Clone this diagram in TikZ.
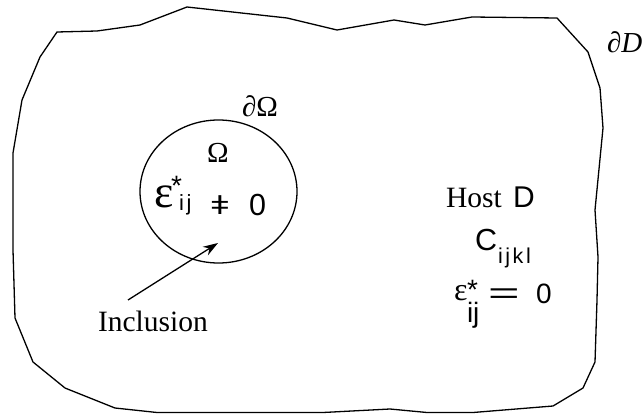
\documentclass[tikz,border=0pt]{standalone}
\usepackage{fontspec}
\usepackage{graphicx}
\setmainfont{Liberation Serif}
\newfontfamily\hlv{Liberation Sans}
\newfontfamily\hlvsp[LetterSpace=12]{Liberation Sans}
\usetikzlibrary{arrows.meta,shapes.geometric}
\newcommand\fsz[1]{\fontsize{#1}{#1}\selectfont}
\begin{document}
\begin{tikzpicture}[x=1pt,y=-1pt,
  lbl/.style={inner sep=0pt, outer sep=0pt, anchor=base west},
  outline/.style={line width=1.3pt, line join=round},
  region/.style={draw, ellipse, line width=1.3pt, inner sep=0pt},
  pointer/.style={-{Stealth[length=15pt,width=10pt]}, line width=1.3pt}]
\useasboundingbox (0,0) rectangle (644,414);
% outer host boundary
\draw[outline] (57,32) -- (97,31) -- (140,25) -- (187,7) -- (287,18) -- (337,30)
  -- (394,20) -- (425,25) -- (472,17) -- (557,18) -- (588,52) -- (600,88)
  -- (603,128) -- (595,210) -- (598,257) -- (597,300) -- (595,362) -- (583,388)
  -- (553,406) -- (473,412.5) -- (427,412.5) -- (390,409) -- (323,412.5)
  -- (157,412.5) -- (115,408) -- (65,388) -- (33,362) -- (15,318) -- (13,250)
  -- (13,200) -- (13,153) -- (22,100) -- (40,57) -- cycle;
% inclusion
\node[region, minimum width=157pt, minimum height=143pt] (omega) at (218.5,191.5) {};
\node[lbl] (dD) at (607,53) {\fsz{29}∂\textit{D}};
\node[lbl] (dO) at (242,117) {\fsz{29}∂Ω};
\node[lbl] (Om) at (207,162) {\fsz{29}Ω};
\node[lbl] (eps1) at (154,207) {\fsz{46}ε};
\node[lbl] (st1) at (171,195) {\hlv\fsz{28}*};
\node[lbl] (ij1) at (179,210) {\hlvsp\fsz{22}ij};
\node[lbl] (ne) at (210,214) {\hlv\fsz{26}\scalebox{1.3}[1]{ǂ}};
\node[lbl] (zero1) at (249,215) {\hlv\fsz{30.5}0};
\node[lbl] (incl) at (98,331) {\fsz{29.5}Inclusion};
% host
\node[lbl] (host) at (446,207) {\fsz{29.5}Host};
\node[lbl] (D) at (513,207) {\hlv\fsz{30}D};
\node[lbl] (C) at (475,250) {\hlv\fsz{30.5}C};
\node[lbl] (ijkl) at (498,263.5) {\hlvsp\fsz{21.5}ijkl};
\node[lbl] (eps2) at (454,300) {\fsz{32}ε};
\node[lbl] (st2) at (467,299) {\hlv\fsz{28}*};
\node[lbl] (ij2) at (467,322) {\hlv\fsz{28}ij};
\node[lbl] (eq2) at (488,303.5) {\hlv\fsz{30}\scalebox{1.8}[1]{=}};
\node[lbl] (zero2) at (536,303) {\hlv\fsz{28}0};
% pointer
\coordinate (atail) at (128,300);
\coordinate (atip) at (218,243);
\draw[pointer] (atail) -- (atip);
\end{tikzpicture}
\end{document}
